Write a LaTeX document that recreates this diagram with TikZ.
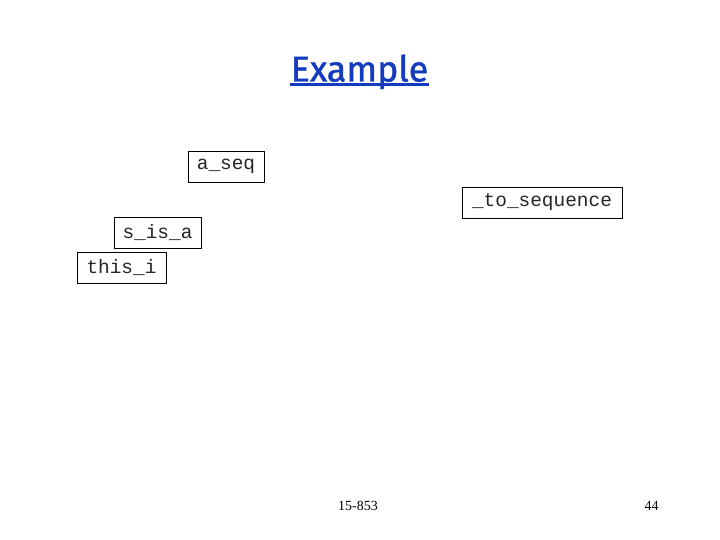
\documentclass[tikz,border=0pt]{standalone}
\usepackage{fontspec}
\setmainfont{Liberation Serif}
\setmonofont{Liberation Mono}
\newfontfamily\titlefont[FakeBold=1.2]{Fira Sans}
\definecolor{titleblue}{RGB}{20,60,190}
\begin{document}
\begin{tikzpicture}[x=1bp,y=-1bp,
  codebox/.style={draw=black,line width=0.9bp,inner sep=0pt,minimum height=31bp,
    font=\ttfamily\fontsize{19.5}{22}\selectfont,text=black!85},
  foot/.style={font=\fontsize{14}{16}\selectfont,inner sep=0pt,anchor=base}]
\useasboundingbox (0,0) rectangle (720,540);
\fill[white] (0,0) rectangle (720,540);
\node[anchor=base,inner sep=0pt,text=titleblue,font=\titlefont\fontsize{36}{40}\selectfont] (title) at (359.5,81.5) {Example};
\draw[titleblue,line width=2.2bp] (290,84.5) -- (429,84.5);
\node[codebox,minimum width=76bp] (aseq) at (226,166.5) {a\_seq};
\node[codebox,minimum width=160bp] (toseq) at (542,202.5) {\_to\_sequence};
\node[codebox,minimum width=87bp] (sisa) at (157.5,232.5) {s\_is\_a};
\node[codebox,minimum width=89bp] (thisi) at (121.5,267.5) {this\_i};
\node[foot] (course) at (358,510) {15-853};
\node[foot] (page) at (651.5,510) {44};
\end{tikzpicture}
\end{document}
